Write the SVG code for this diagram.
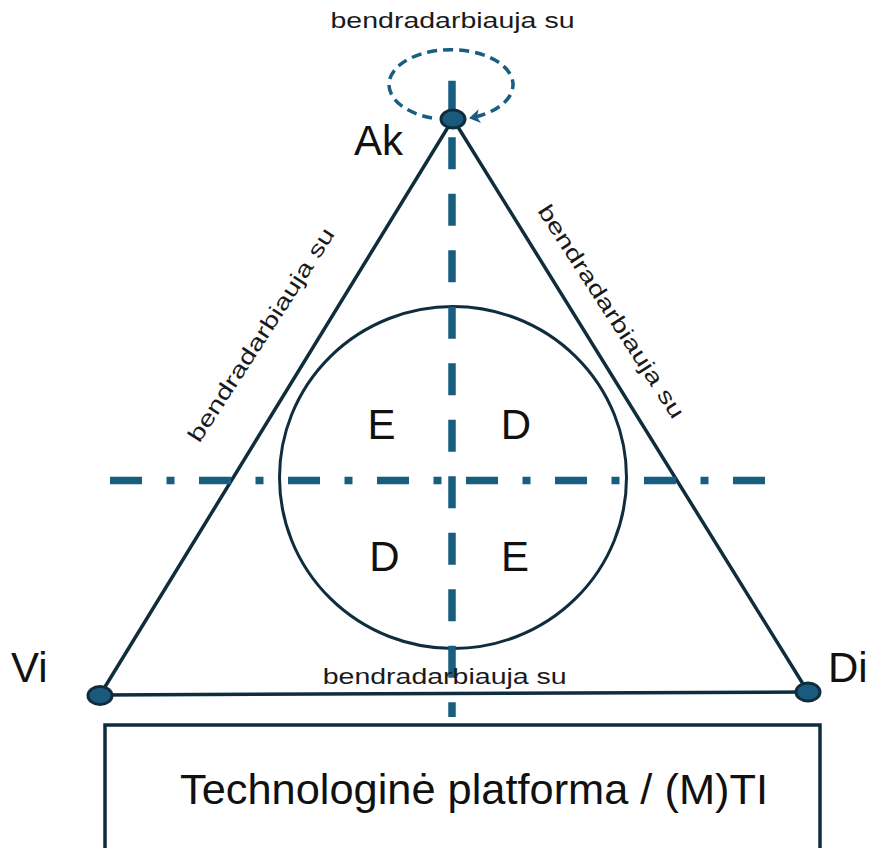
<svg xmlns="http://www.w3.org/2000/svg" width="874" height="848" viewBox="0 0 874 848">
  <style>
    .edge { fill: none; stroke: #0f2d3c; stroke-width: 3.5; stroke-linecap: round; }
    .axis { fill: none; stroke: #175e80; stroke-width: 7.5; }
    .loop { fill: none; stroke: #175e80; stroke-width: 3.5; stroke-dasharray: 10 6; }
    .vertex { fill: #1a5b7d; stroke: #0f2d3c; stroke-width: 3; }
    .big { font-family: "Liberation Sans", Arial, sans-serif; font-size: 42px; fill: #111; }
    .rel { font-family: "Liberation Sans", Arial, sans-serif; font-size: 22px; fill: #1a1a1a; }
  </style>
  <defs>
    <marker id="arrow" viewBox="0 0 11 14" refX="10" refY="7" markerWidth="11" markerHeight="14" markerUnits="userSpaceOnUse" orient="auto">
      <path d="M0 0 L11 7 L0 14 L3 7 Z" fill="#175e80"/>
    </marker>
  </defs>

  <rect width="874" height="848" fill="#ffffff"/>

  <!-- central circle with quadrant labels -->
  <g id="quadrants">
    <ellipse cx="453" cy="477.5" rx="173.5" ry="171" fill="none" stroke="#0f2d3c" stroke-width="3"/>
    <text class="big" x="381.5" y="439" text-anchor="middle">E</text>
    <text class="big" x="516" y="439" text-anchor="middle">D</text>
    <text class="big" x="384.5" y="571" text-anchor="middle">D</text>
    <text class="big" x="515" y="571" text-anchor="middle">E</text>
  </g>

  <!-- relations between the three actors -->
  <g id="connectors">
    <line class="edge" x1="100" y1="695" x2="453" y2="119"/>
    <line class="edge" x1="453" y1="119" x2="808" y2="692"/>
    <line class="edge" x1="100" y1="695" x2="808" y2="692"/>
    <path class="loop" d="M432 118 A62 35 0 1 1 470 118" marker-end="url(#arrow)"/>
    <text class="rel" x="452.5" y="28.3" text-anchor="middle" textLength="244" lengthAdjust="spacingAndGlyphs">bendradarbiauja su</text>
    <text class="rel" x="267.4" y="338.8" text-anchor="middle" textLength="250" lengthAdjust="spacingAndGlyphs" transform="rotate(-57 267.4 338.8)">bendradarbiauja su</text>
    <text class="rel" x="605" y="315.5" text-anchor="middle" textLength="250" lengthAdjust="spacingAndGlyphs" transform="rotate(57 605 315.5)">bendradarbiauja su</text>
  </g>

  <!-- dashed axes -->
  <g id="axes">
    <line class="axis" x1="110" y1="480.5" x2="765" y2="480.5" stroke-dasharray="32 24.5 8 24.5"/>
    <line class="axis" x1="452" y1="80.7" x2="452" y2="717" stroke-dasharray="32 24.5"/>
  </g>

  <text class="rel" x="444.7" y="684.3" text-anchor="middle" textLength="244" lengthAdjust="spacingAndGlyphs">bendradarbiauja su</text>

  <g id="node-ak">
    <ellipse class="vertex" cx="453" cy="119" rx="12" ry="9"/>
    <text class="big" x="354" y="155">Ak</text>
  </g>
  <g id="node-vi">
    <ellipse class="vertex" cx="100" cy="695.5" rx="12" ry="9"/>
    <text class="big" x="11" y="682">Vi</text>
  </g>
  <g id="node-di">
    <ellipse class="vertex" cx="808" cy="692" rx="12" ry="9"/>
    <text class="big" x="828" y="682">Di</text>
  </g>

  <g id="platform">
    <rect x="105" y="725" width="715" height="140" fill="none" stroke="#0f2d3c" stroke-width="3.5"/>
    <text class="big" x="180" y="804" font-size="41" textLength="588" lengthAdjust="spacingAndGlyphs">Technologinė platforma / (M)TI</text>
  </g>
</svg>
